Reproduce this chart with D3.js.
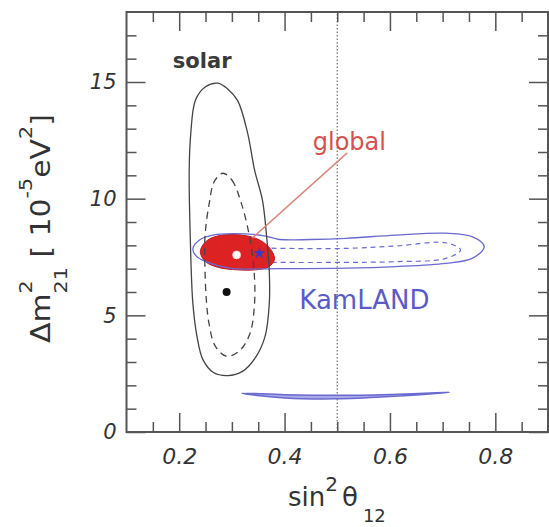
<!DOCTYPE html>
<html>
<head>
<meta charset="utf-8">
<script src="https://cdn.jsdelivr.net/npm/d3@7"></script>
<style>
  html, body { margin: 0; padding: 0; background: #fff; }
  svg { display: block; }
  text { font-family: "DejaVu Sans", sans-serif; }
</style>
</head>
<body>
<svg id="chart" width="549" height="527"></svg>
<script>
// ---------------- data ----------------
const xDomain = [0.1, 0.9];
const yDomain = [0, 18];
const xTickLabels = [0.2, 0.4, 0.6, 0.8];
const xMinorTicks = [0.15, 0.25, 0.3, 0.35, 0.45, 0.5, 0.55, 0.65, 0.7, 0.75, 0.85];
const yTickLabels = [0, 5, 10, 15];
const yMinorTicks = [1, 2, 3, 4, 6, 7, 8, 9, 11, 12, 13, 14, 16, 17];
const maximalMixing = 0.5;

// solar allowed regions (sin^2 theta12, dm2 in 1e-5 eV^2)
const solarOuter = [[0.2735,14.95],[0.292,14.7],[0.311,14.2],[0.330,12.8],[0.343,11.23],[0.358,9.94],[0.366,8.37],
  [0.371,6.9],[0.371,5.5],[0.363,4.1],[0.345,3.2],[0.32,2.6],[0.292,2.42],[0.265,2.55],[0.245,3.1],[0.234,4.07],
  [0.226,5.5],[0.221,8.37],[0.219,11.2],[0.222,12.8],[0.231,14.23],[0.250,14.8]];
const solarInner = [[0.283,11.09],[0.300,10.8],[0.318,9.8],[0.3335,8.37],[0.342,6.94],[0.343,5.51],[0.334,4.2],
  [0.313,3.45],[0.289,3.25],[0.268,3.7],[0.257,4.6],[0.252,5.51],[0.249,6.94],[0.249,8.37],[0.257,9.8],[0.267,10.75]];
// KamLAND allowed regions
const kamOuter = [[0.226,7.87],[0.240,8.25],[0.264,8.44],[0.30,8.50],[0.359,8.42],[0.39,8.25],[0.45,8.25],[0.517,8.30],
  [0.611,8.44],[0.706,8.52],[0.756,8.37],[0.779,7.94],[0.756,7.44],[0.706,7.23],[0.611,7.09],[0.517,7.02],[0.39,7.0],
  [0.296,7.02],[0.251,7.3],[0.232,7.55]];
const kamInner = [[0.262,7.6],[0.29,7.85],[0.33,7.9],[0.39,7.87],[0.517,7.87],[0.611,7.97],[0.706,8.11],[0.734,7.8],
  [0.706,7.44],[0.611,7.3],[0.517,7.27],[0.39,7.27],[0.33,7.3],[0.29,7.35]];
const kamLow = [[0.318,1.66],[0.40,1.60],[0.50,1.57],[0.60,1.61],[0.713,1.70],[0.60,1.52],[0.50,1.42],[0.40,1.46]];
// global fit region
const globalRegion = [[0.240,7.72],[0.250,8.15],[0.272,8.40],[0.30,8.46],[0.33,8.40],[0.355,8.2],[0.373,7.85],
  [0.381,7.4],[0.37,7.08],[0.345,6.95],[0.31,6.95],[0.275,7.05],[0.25,7.3]];
// best-fit points
const bestSolar = [0.29, 6.0];
const bestGlobal = [0.309, 7.59];
const bestKam = [0.352, 7.66];
// labels
const labelSolar = {text: "solar", at: [0.188, 15.6]};
const labelGlobal = {text: "global", at: [0.4535, 12.09], arrowFrom: [0.519, 11.96], arrowTo: [0.339, 8.32]};
const labelKam = {text: "KamLAND", at: [0.428, 5.27]};

// ---------------- drawing ----------------
const svg = d3.select("#chart");
const x = d3.scaleLinear().domain(xDomain).range([126.5, 548]);
const y = d3.scaleLinear().domain(yDomain).range([432, 12]);
const closed = d3.line().x(d => x(d[0])).y(d => y(d[1])).curve(d3.curveCatmullRomClosed.alpha(0.5));

const plot = svg.append("g");

// maximal mixing line
plot.append("line")
  .attr("x1", x(maximalMixing)).attr("x2", x(maximalMixing))
  .attr("y1", y(yDomain[0])).attr("y2", y(yDomain[1]))
  .attr("stroke", "#777").attr("stroke-width", 1.3).attr("stroke-dasharray", "1.5,2");

// KamLAND inner (dashed)
plot.append("path").attr("d", closed(kamInner))
  .attr("fill", "none").attr("stroke", "#6a6ad0").attr("stroke-width", 1.2).attr("stroke-dasharray", "5,4");

// global region
plot.append("path").attr("d", closed(globalRegion))
  .attr("fill", "#dc2222").attr("stroke", "#c01a2a").attr("stroke-width", 1);

// KamLAND outer
plot.append("path").attr("d", closed(kamOuter))
  .attr("fill", "none").attr("stroke", "#6a6ad0").attr("stroke-width", 1.3);
// KamLAND low island
plot.append("path").attr("d", closed(kamLow))
  .attr("fill", "#a9a9ea").attr("stroke", "#6a6ad0").attr("stroke-width", 1.5);

// solar contours
plot.append("path").attr("d", closed(solarOuter))
  .attr("fill", "none").attr("stroke", "#444").attr("stroke-width", 1.3);
plot.append("path").attr("d", closed(solarInner))
  .attr("fill", "none").attr("stroke", "#444").attr("stroke-width", 1.3).attr("stroke-dasharray", "7,5");

// global annotation line
plot.append("line")
  .attr("x1", x(labelGlobal.arrowFrom[0])).attr("y1", y(labelGlobal.arrowFrom[1]))
  .attr("x2", x(labelGlobal.arrowTo[0])).attr("y2", y(labelGlobal.arrowTo[1]))
  .attr("stroke", "#d8877a").attr("stroke-width", 1.5);

// best fit points
plot.append("circle").attr("cx", x(bestSolar[0])).attr("cy", y(bestSolar[1])).attr("r", 4).attr("fill", "#111");
plot.append("circle").attr("cx", x(bestGlobal[0])).attr("cy", y(bestGlobal[1])).attr("r", 4)
  .attr("fill", "#fff").attr("stroke", "#f4c8c8").attr("stroke-width", 0.8);
plot.append("path").attr("d", d3.symbol(d3.symbolStar, 45)())
  .attr("transform", `translate(${x(bestKam[0])},${y(bestKam[1])})`).attr("fill", "#3a3ac8");

// labels
plot.append("text").text(labelSolar.text).attr("x", x(labelSolar.at[0])).attr("y", y(labelSolar.at[1]))
  .attr("font-size", 21).attr("font-weight", "bold").attr("fill", "#3a3a3a");
plot.append("text").text(labelGlobal.text).attr("x", x(labelGlobal.at[0])).attr("y", y(labelGlobal.at[1]))
  .attr("font-size", 24).attr("fill", "#d4524a");
plot.append("text").text(labelKam.text).attr("x", x(labelKam.at[0])).attr("y", y(labelKam.at[1]))
  .attr("font-size", 26).attr("fill", "#5b5bc8");

// ---------------- axes ----------------
const tickColor = "#555";
function styleAxis(g) {
  g.select(".domain").remove();
  g.selectAll(".tick line").attr("stroke", tickColor).attr("stroke-width", 1.5);
}
// minor ticks
svg.append("g").attr("transform", "translate(0,432)")
  .call(d3.axisBottom(x).tickValues(xMinorTicks).tickSize(-10).tickFormat("")).call(styleAxis);
svg.append("g").attr("transform", "translate(0,12)")
  .call(d3.axisTop(x).tickValues(xMinorTicks).tickSize(-10).tickFormat("")).call(styleAxis);
svg.append("g").attr("transform", "translate(126.5,0)")
  .call(d3.axisLeft(y).tickValues(yMinorTicks).tickSize(-10).tickFormat("")).call(styleAxis);
svg.append("g").attr("transform", "translate(548,0)")
  .call(d3.axisRight(y).tickValues(yMinorTicks).tickSize(-10).tickFormat("")).call(styleAxis);
// major ticks
const xb = svg.append("g").attr("transform", "translate(0,432)")
  .call(d3.axisBottom(x).tickValues(xTickLabels).tickSize(-19).tickPadding(16).tickFormat(d3.format(".1f"))).call(styleAxis);
svg.append("g").attr("transform", "translate(0,12)")
  .call(d3.axisTop(x).tickValues(xTickLabels).tickSize(-19).tickFormat("")).call(styleAxis);
const yl = svg.append("g").attr("transform", "translate(126.5,0)")
  .call(d3.axisLeft(y).tickValues(yTickLabels).tickSize(-19).tickPadding(10).tickFormat(d3.format("d"))).call(styleAxis);
svg.append("g").attr("transform", "translate(548,0)")
  .call(d3.axisRight(y).tickValues(yTickLabels).tickSize(-19).tickFormat("")).call(styleAxis);
xb.selectAll("text").attr("font-family", "DejaVu Sans").attr("font-style", "italic").attr("font-size", 22).attr("fill", "#333");
yl.selectAll("text").attr("font-family", "DejaVu Sans").attr("font-style", "italic").attr("font-size", 21).attr("fill", "#333");

// frame
svg.append("rect").attr("x", 126.5).attr("y", 12).attr("width", 548 - 126.5).attr("height", 420)
  .attr("fill", "none").attr("stroke", "#555").attr("stroke-width", 2);

// x title
const xt = svg.append("text").attr("x", 288).attr("y", 506).attr("fill", "#333");
xt.append("tspan").attr("font-size", 26).text("sin");
xt.append("tspan").attr("font-size", 20).attr("dy", -15).text("2");
xt.append("tspan").attr("font-size", 26).attr("dy", 15).attr("dx", 4).text("θ");
xt.append("tspan").attr("font-size", 18).attr("dy", 16).attr("dx", 5).text("12");

// y title
const yt = svg.append("text").attr("transform", "translate(50,343) rotate(-90) scale(1.15,1)").attr("fill", "#333");
yt.append("tspan").attr("font-size", 26).text("Δm");
yt.append("tspan").attr("font-size", 18).attr("dy", -18).text("2");
yt.append("tspan").attr("font-size", 18).attr("dy", 35).attr("dx", -11.4).text("21");
yt.append("tspan").attr("font-size", 26).attr("dy", -17).text(" [ 10");
yt.append("tspan").attr("font-size", 18).attr("dy", -18).text("-5");
yt.append("tspan").attr("font-size", 26).attr("dy", 18).text("eV");
yt.append("tspan").attr("font-size", 18).attr("dy", -18).text("2");
yt.append("tspan").attr("font-size", 26).attr("dy", 18).text("]");
</script>
</body>
</html>
